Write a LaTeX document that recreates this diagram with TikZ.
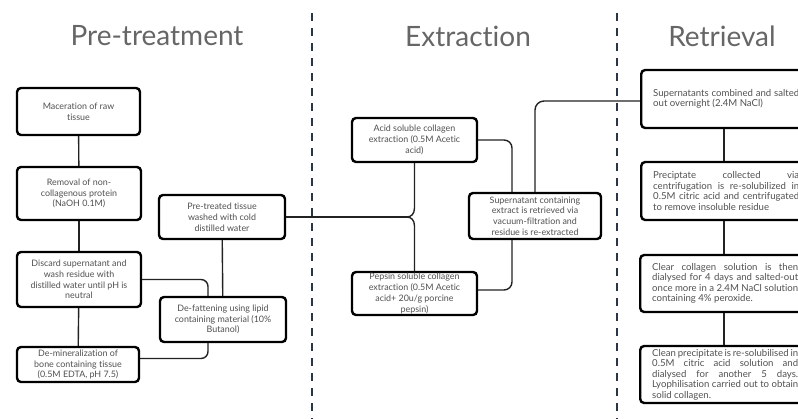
\documentclass[tikz,border=0pt]{standalone}
\usepackage{fontspec}
\setmainfont{Lato}[Ligatures={NoCommon}]
\usetikzlibrary{calc}
\definecolor{boxtext}{HTML}{505050}
\definecolor{titlegray}{HTML}{666666}
\definecolor{divcol}{HTML}{2A3648}
\definecolor{linecol}{HTML}{222222}
\begin{document}
\begin{tikzpicture}[x=1pt,y=-1pt,
  box/.style={draw=black,line width=2.4pt,rounded corners=4pt,inner sep=0pt,
    align=center,text=boxtext,font=\fontsize{8.9}{10.8}\selectfont},
  rbox/.style={draw=black,line width=2.4pt,rounded corners=4pt,inner xsep=12pt,inner ysep=0pt,
    text width=146pt,align=justify,text=boxtext,font=\fontsize{9.6}{10.5}\selectfont,anchor=west},
  conn/.style={draw=linecol,line width=1.4pt},
  divider/.style={draw=divcol,line width=2.8pt,dash pattern=on 8pt off 7pt},
  title/.style={text=titlegray,font=\fontsize{28}{30}\selectfont}]
\path[use as bounding box] (0,0) rectangle (798,418);
\clip (0,0) rectangle (798,418);
% titles
\node[title] (t1) at (157,36) {Pre-treatment};
\node[title] (t2) at (468,36) {Extraction};
\node[title] (t3) at (722,36) {Retrieval};
% dividers
\draw[divider] (312,13) -- (312,420);
\draw[divider] (617,13) -- (617,420);
% pre-treatment
\node[box,minimum width=123pt,minimum height=47pt] (mac) at (78.5,111.5) {Maceration of raw\\tissue};
\node[box,minimum width=124pt,minimum height=53pt] (rem) at (79,193.5) {Removal of non-\\collagenous protein\\(NaOH 0.1M)};
\node[box,minimum width=124pt,minimum height=55pt] (dis) at (79,279.5) {Discard supernatant and\\wash residue with\\distilled water until pH is\\neutral};
\node[box,minimum width=122pt,minimum height=35pt] (demin) at (78,364.5) {De-mineralization of\\bone containing tissue\\(0.5M EDTA, pH 7.5)};
\node[box,minimum width=126pt,minimum height=44pt] (pre) at (222,217) {Pre-treated tissue\\washed with cold\\distilled water};
\node[box,minimum width=126pt,minimum height=45pt] (defat) at (223,319.5) {De-fattening using lipid\\containing material (10\%\\Butanol)};
% extraction
\node[box,minimum width=125pt,minimum height=44pt] (acid) at (414.5,140) {Acid soluble collagen\\extraction (0.5M Acetic\\acid)};
\node[box,minimum width=125pt,minimum height=43pt] (pep) at (414.5,293.5) {Pepsin soluble collagen\\extraction (0.5M Acetic\\acid+ 20u/g porcine\\pepsin)};
\node[box,minimum width=132pt,minimum height=46pt] (sup) at (535,216) {Supernatant containing\\extract is retrieved via\\vacuum-filtration and\\residue is re-extracted};
% retrieval
\node[rbox,minimum height=58pt] (r1) at (640,99) {Supernatants combined and salted\linebreak out overnight (2.4M NaCl)};
\node[rbox,minimum height=58pt] (r2) at (640,191) {Preciptate collected via\linebreak centrifugation is re-solubilized in\linebreak 0.5M citric acid and centrifugated\linebreak to remove insoluble residue};
\node[rbox,minimum height=57pt] (r3) at (639,283.5) {Clear collagen solution is then\linebreak dialysed for 4 days and salted-out\linebreak once more in a 2.4M NaCl solution\linebreak containing 4\% peroxide.};
\node[rbox,minimum height=57pt] (r4) at (639,374.5) {Clean precipitate is re-solubilised in\linebreak 0.5M citric acid solution and\linebreak dialysed for another 5 days.\linebreak Lyophilisation carried out to obtain\linebreak solid collagen.};
% connectors pre-treatment
\draw[conn] (mac) -- (rem);
\draw[conn] (rem) -- (dis);
\draw[conn] (dis) -- (demin);
\draw[conn] (pre) -- (defat);
\draw[conn,rounded corners=7pt] (dis.east) -| ([xshift=-15pt]defat.north);
\draw[conn,rounded corners=7pt] ([yshift=6pt]demin.east) -| ([xshift=-15pt]defat.south);
% junction
\coordinate (j) at (407,217);
\draw[conn] (pre.east) -- (j);
\draw[conn] (acid.south) -- (414.5,208) .. controls (414.5,214) and (411,217) .. (j);
\draw[conn] (pep.north) -- (414.5,226) .. controls (414.5,220) and (411,217) .. (j);
% extraction connectors
\draw[conn,rounded corners=8pt] (acid.east) -| ([xshift=-23pt]sup.north);
\draw[conn,rounded corners=8pt] ([yshift=3.5pt]pep.east) -| ([xshift=-23pt]sup.south);
\draw[conn,rounded corners=9pt] (sup.north) |- ([yshift=-2pt]r1.west);
% retrieval connectors
\draw[conn] (r1.south -| 724,0) -- (r2.north -| 724,0);
\draw[conn] (r2.south -| 724,0) -- (r3.north -| 724,0);
\draw[conn] (r3.south -| 724,0) -- (r4.north -| 724,0);
\end{tikzpicture}
\end{document}
